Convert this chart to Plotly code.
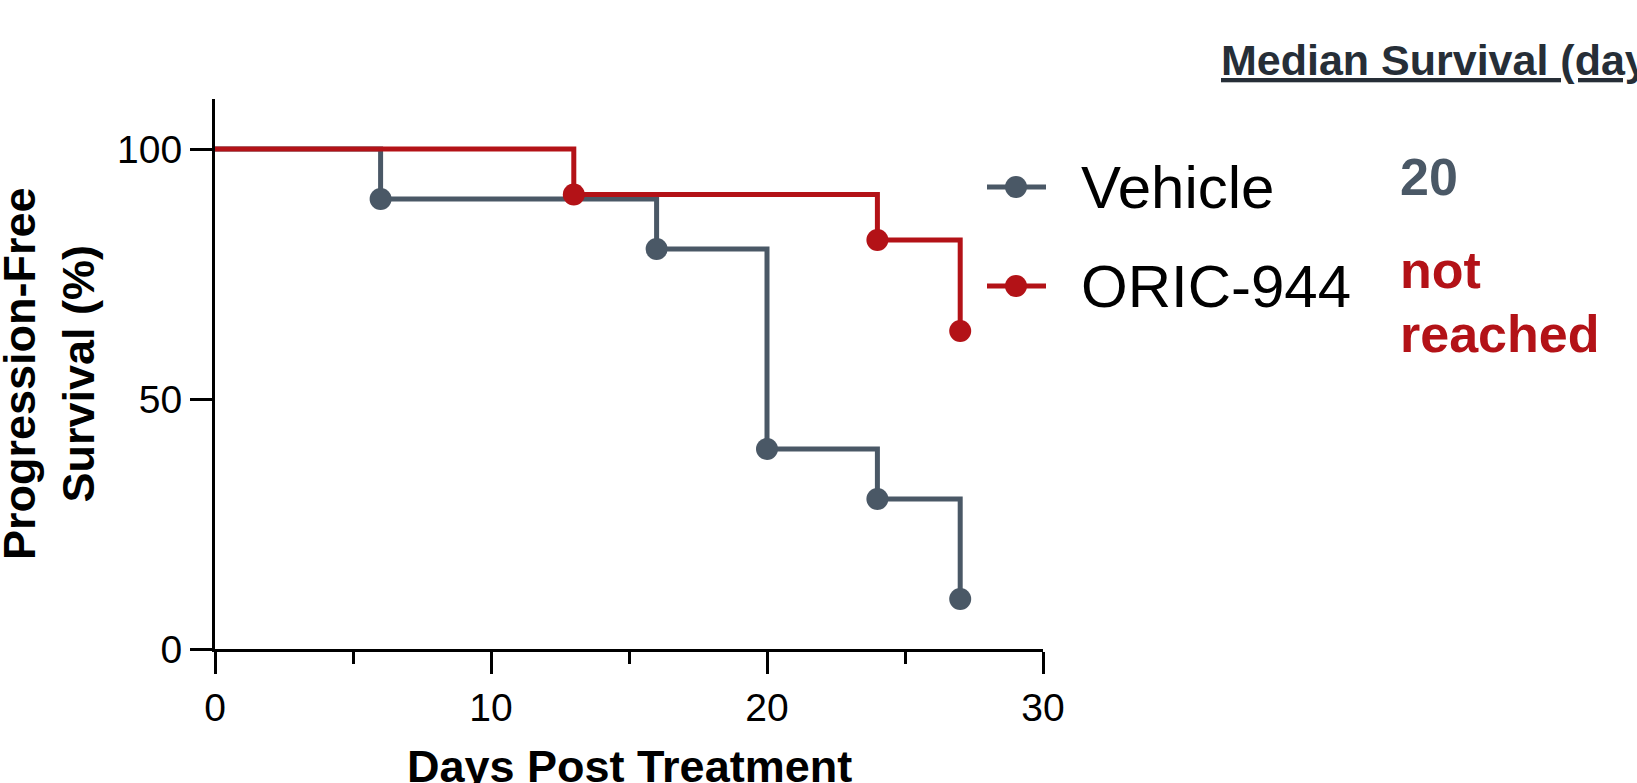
import plotly.graph_objects as go

# ---- data ----
vehicle_days = [0, 6, 16, 20, 24, 27]
vehicle_pfs = [100, 90, 80, 40, 30, 10]
oric_days = [0, 13, 24, 27]
oric_pfs = [100, 90.9, 81.8, 63.6]
series_names = ["Vehicle", "ORIC-944"]
median_header = "Median Survival (days)"
median_values = ["20", "not<br>reached"]
x_ticks = [0, 10, 20, 30]
y_ticks = [0, 50, 100]

GRAY = "#4a5866"
RED = "#b31217"
DARK = "#262e37"
FONT = "Arial, Liberation Sans, sans-serif"

W, H = 1637, 783
L, R, T, B = 215, 594, 99, 134
PW, PH = W - L - R, H - T - B


def px(x):
    return (x - L) / PW


def py(y):
    return (H - B - y) / PH


fig = go.Figure()


def add_series(days, vals, color, name):
    sizes = [0] + [22] * (len(days) - 1)
    fig.add_trace(go.Scatter(
        x=days, y=vals, name=name, mode="lines+markers",
        line=dict(color=color, width=5, shape="hv"),
        marker=dict(color=color, size=sizes, opacity=1, line=dict(width=0)),
        cliponaxis=False, showlegend=False,
    ))


add_series(vehicle_days, vehicle_pfs, GRAY, series_names[0])
add_series(oric_days, oric_pfs, RED, series_names[1])

shapes = []
annotations = []

# custom legend
for name, color, yc in [
    (series_names[0], GRAY, 187),
    (series_names[1], RED, 286),
]:
    shapes.append(dict(type="line", xref="paper", yref="paper",
                       x0=px(987), x1=px(1046), y0=py(yc), y1=py(yc),
                       line=dict(color=color, width=5)))
    shapes.append(dict(type="circle", xref="paper", yref="paper",
                       x0=px(1016 - 11), x1=px(1016 + 11),
                       y0=py(yc + 11), y1=py(yc - 11),
                       fillcolor=color, line=dict(width=0)))
    annotations.append(dict(text=name, xref="paper", yref="paper",
                            x=px(1079), y=py(yc), xanchor="left", yanchor="middle",
                            showarrow=False,
                            font=dict(family=FONT, size=60, color="black")))

# median survival header + values
annotations.append(dict(text="<b><u>" + median_header + "</u></b>", xref="paper", yref="paper",
                        x=px(1219), y=py(60), xanchor="left", yanchor="middle",
                        showarrow=False, font=dict(family=FONT, size=43, color=DARK)))
annotations.append(dict(text="<b>" + median_values[0] + "</b>", xref="paper", yref="paper",
                        x=px(1398), y=py(177), xanchor="left", yanchor="middle",
                        showarrow=False, font=dict(family=FONT, size=52, color=GRAY)))
for txt, yc in zip(median_values[1].split("<br>"), [270, 334]):
    annotations.append(dict(text="<b>" + txt + "</b>", xref="paper", yref="paper",
                            x=px(1398), y=py(yc), xanchor="left", yanchor="middle",
                            showarrow=False, font=dict(family=FONT, size=52, color=RED)))

# axis titles
annotations.append(dict(text="<b>Progression-Free<br>Survival (%)</b>", xref="paper", yref="paper",
                        x=px(49), y=0.5, xanchor="center", yanchor="middle", textangle=-90,
                        showarrow=False, font=dict(family=FONT, size=45, color="black")))
annotations.append(dict(text="<b>Days Post Treatment</b>", xref="paper", yref="paper",
                        x=0.5, y=py(766), xanchor="center", yanchor="middle",
                        showarrow=False, font=dict(family=FONT, size=45, color="black")))

fig.update_layout(
    width=W, height=H,
    margin=dict(l=L, r=R, t=T, b=B, autoexpand=False),
    paper_bgcolor="white", plot_bgcolor="white",
    shapes=shapes, annotations=annotations,
    font=dict(family=FONT, color="black"),
    xaxis=dict(range=[0, 30], tickvals=x_ticks, ticktext=[str(v) for v in x_ticks],
               showgrid=False, zeroline=False, showline=True, linecolor="black", linewidth=3,
               ticks="outside", ticklen=22, tickwidth=3, tickcolor="black",
               tickfont=dict(family=FONT, size=39, color="black"),
               minor=dict(tickvals=[5, 15, 25], ticks="outside", ticklen=12, tickwidth=3,
                          tickcolor="black", showgrid=False),
               fixedrange=True),
    yaxis=dict(range=[0, 110], tickvals=y_ticks, ticktext=[str(v) for v in y_ticks],
               showgrid=False, zeroline=False, showline=True, linecolor="black", linewidth=3,
               ticks="outside", ticklen=22, tickwidth=3, tickcolor="black",
               tickfont=dict(family=FONT, size=39, color="black"),
               fixedrange=True),
)

fig.write_html("out.html", config={"displayModeBar": False})
